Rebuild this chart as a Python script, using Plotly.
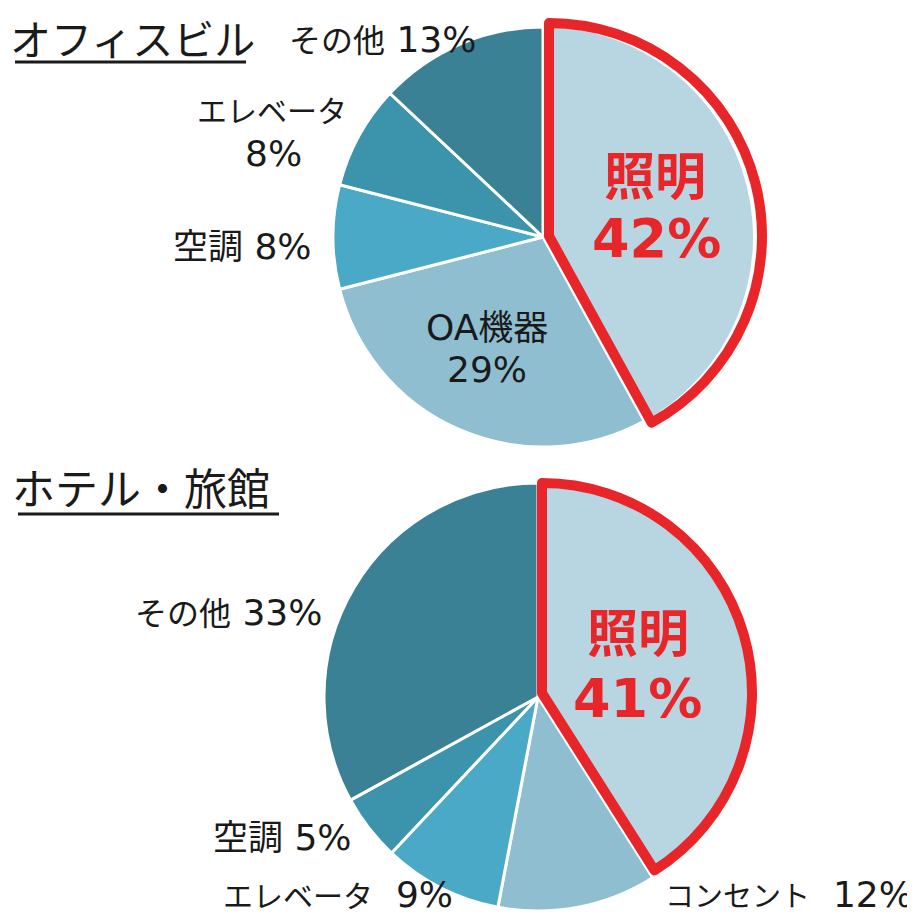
import plotly.graph_objects as go

# page is 915x918; the HTML body has an 8px default margin
M = 8
W, H = 915 - M, 918 - M

# ---- data ----
office_labels = ["照明", "OA機器", "空調", "エレベータ", "その他"]
office_values = [42, 29, 8, 8, 13]
hotel_labels = ["照明", "コンセント", "エレベータ", "空調", "その他"]
hotel_values = [41, 12, 9, 5, 33]
titles = ["オフィスビル", "ホテル・旅館"]

slice_colors = ["#b8d5e2", "#8fbed1", "#4aa9c6", "#3c93ac", "#3a8196"]
RED = "#e8262a"
FONT = "DejaVu Sans, Noto Sans CJK JP"
CJK = "Noto Sans CJK JP"


def fx(px):
    return (px - M) / W


def fy(py):
    return 1 - (py - M) / H


def dom(cx, cy, r):
    return dict(x=[fx(cx - r), fx(cx + r)], y=[fy(cy + r), fy(cy - r)])


fig = go.Figure()

pies = [
    (office_labels, office_values, (543, 237, 210), (549, 236, 213)),
    (hotel_labels, hotel_values, (538, 697, 214), (542, 693, 210)),
]
for labels, values, (cx, cy, r), (rcx, rcy, rr) in pies:
    n = len(values)
    fig.add_trace(go.Pie(
        labels=labels, values=values, sort=False, direction="clockwise", rotation=0,
        marker=dict(colors=slice_colors, line=dict(color="white", width=[0] + [3] * (n - 1))),
        textinfo="none", hoverinfo="label+percent", showlegend=False,
        domain=dom(cx, cy, r),
    ))
    fig.add_trace(go.Pie(
        labels=labels, values=values, sort=False, direction="clockwise", rotation=0,
        marker=dict(colors=["rgba(0,0,0,0)"] * n,
                    line=dict(color=[RED] + ["rgba(0,0,0,0)"] * (n - 1),
                              width=[10] + [0] * (n - 1))),
        textinfo="none", hoverinfo="skip", showlegend=False,
        domain=dom(rcx, rcy, rr),
    ))

annotations = []


def cj(s, size):
    return f'<span style="font-family:{CJK};font-size:{size}px">{s}</span>'


def lab(x, y, text, size=36, color="#1a1a1a", bold=False, xanchor="center", family=FONT):
    t = f"<b>{text}</b>" if bold else text
    annotations.append(dict(x=fx(x), y=fy(y), xref="paper", yref="paper", text=t,
                            showarrow=False, xanchor=xanchor, yanchor="middle",
                            font=dict(family=family, size=size, color=color)))


# titles
lab(8, 37, titles[0], size=41, xanchor="left", family=CJK)
lab(10, 486, titles[1], size=43, xanchor="left", family=CJK)

# office labels
lab(655, 173, office_labels[0], size=51, color=RED, bold=True, family=CJK)
lab(656, 238, f"{office_values[0]}%", size=54, color=RED, bold=True)
lab(487, 324, f"{office_labels[1][:2]}{cj(office_labels[1][2:], 35)}")
lab(487, 370, f"{office_values[1]}%")
lab(242, 244, f"{cj(office_labels[2], 35)} {office_values[2]}%")
lab(272, 109, cj(office_labels[3], 30))
lab(273, 153, f"{office_values[3]}%")
lab(382, 38, f"{cj(office_labels[4], 32)} {office_values[4]}%")

# hotel labels
lab(638, 630, hotel_labels[0], size=51, color=RED, bold=True, family=CJK)
lab(637, 698, f"{hotel_values[0]}%", size=54, color=RED, bold=True)
lab(663, 894, f"{cj(hotel_labels[1], 29)}  {hotel_values[1]}%", xanchor="left")
lab(338, 894, f"{cj(hotel_labels[2], 30)}  {hotel_values[2]}%")
lab(282, 834, f"{cj(hotel_labels[3], 35)} {hotel_values[3]}%")
lab(228, 611, f"{cj(hotel_labels[4], 32)} {hotel_values[4]}%")

shapes = [
    dict(type="line", xref="paper", yref="paper", x0=fx(15), x1=fx(246),
         y0=fy(62), y1=fy(62), line=dict(color="#1a1a1a", width=3)),
    dict(type="line", xref="paper", yref="paper", x0=fx(18), x1=fx(279),
         y0=fy(514), y1=fy(514), line=dict(color="#1a1a1a", width=3)),
]

fig.update_layout(
    width=W, height=H, margin=dict(l=0, r=0, t=0, b=0),
    paper_bgcolor="white", plot_bgcolor="white",
    annotations=annotations, shapes=shapes,
    font=dict(family=FONT),
)

fig.write_html("out.html")
